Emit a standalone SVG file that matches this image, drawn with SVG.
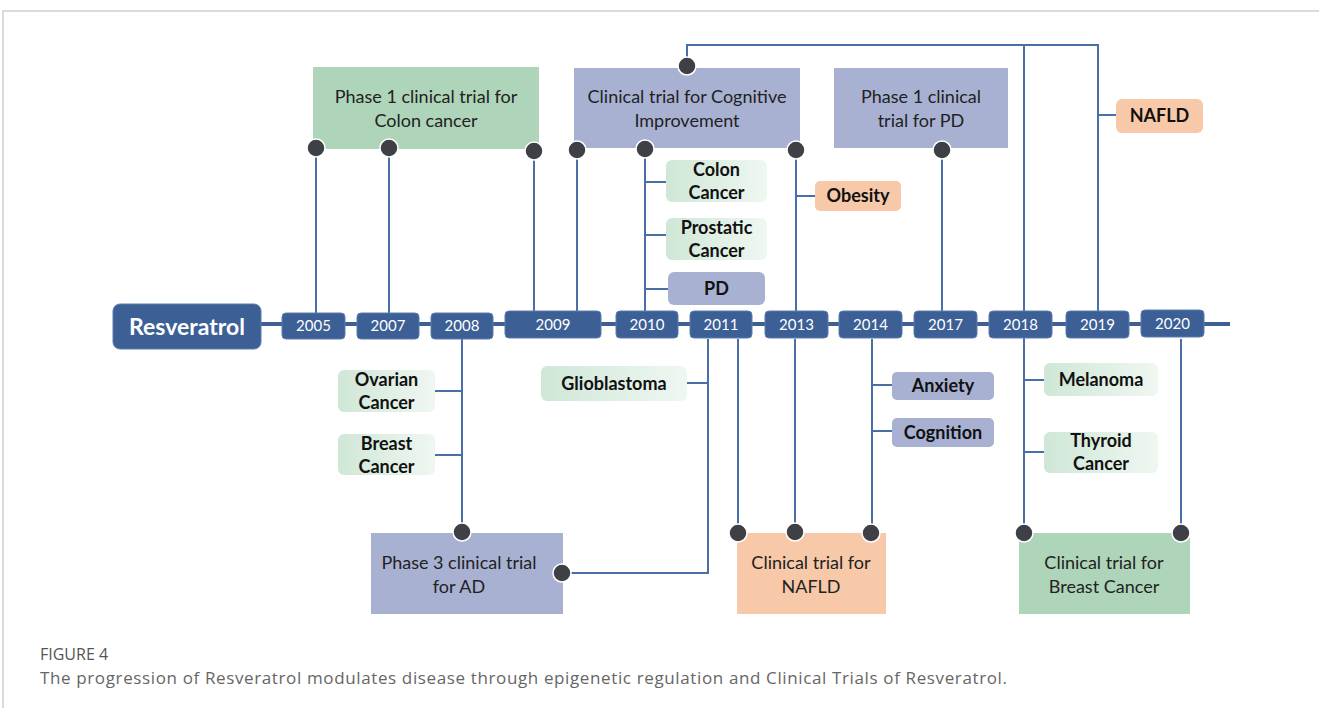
<svg xmlns="http://www.w3.org/2000/svg" width="1319" height="708" viewBox="0 0 1319 708">
<defs>
<linearGradient id="gg" x1="0" y1="0" x2="1" y2="0">
<stop offset="0" stop-color="#cfe7d7"/>
<stop offset="1" stop-color="#eff7f1"/>
</linearGradient>
<style>
.frame{stroke:#d0d0d0;stroke-width:1.5;fill:none}
.ln{stroke:#4a6ea6;stroke-width:2;fill:none}
.tl{stroke:#3d5f94;stroke-width:4;fill:none}
.yb{fill:#3c5f95;stroke:#5a7db0;stroke-width:1}
.yt{font-family:Lato,"Liberation Sans",sans-serif;font-size:15px;fill:#fff;text-anchor:middle}
.big{font-family:Lato,"Liberation Sans",sans-serif;font-size:18px;fill:#222;text-anchor:middle}
.lab{font-family:Lato,"Liberation Sans",sans-serif;font-size:18px;font-weight:bold;fill:#111;text-anchor:middle}
.green{fill:#aed4b9}
.lav{fill:#a9b1d2}
.org{fill:#f7c9a8}
.gs{fill:url(#gg)}
.dot{fill:#3f4045;stroke:#fff;stroke-width:1.5}
.cap1{font-family:"Open Sans","Liberation Sans",sans-serif;font-size:16px;fill:#555}
.cap2{font-family:"Open Sans","Liberation Sans",sans-serif;font-size:17px;fill:#666}
</style>
</defs>
<rect width="1319" height="708" fill="#fff"/>
<path class="frame" d="M3 708 V11 H1319"/>

<g id="connectors">
<line class="tl" x1="258" y1="324" x2="1230" y2="324"/>
<path class="ln" d="M316 150 V313"/>
<path class="ln" d="M389 148 V313"/>
<path class="ln" d="M534 150 V312"/>
<path class="ln" d="M577 150 V312"/>
<path class="ln" d="M645 148 V312"/>
<path class="ln" d="M796 150 V312"/>
<path class="ln" d="M942 150 V312"/>
<path class="ln" d="M687 66 V45 H1098 V312"/>
<path class="ln" d="M1024 45 V533"/>
<path class="ln" d="M1098 115 H1116"/>
<path class="ln" d="M645 182 H666"/>
<path class="ln" d="M645 235 H666"/>
<path class="ln" d="M645 289 H668"/>
<path class="ln" d="M796 196 H815"/>
<path class="ln" d="M462 339 V532"/>
<path class="ln" d="M463 391 H435"/>
<path class="ln" d="M463 455 H435"/>
<path class="ln" d="M708 339 V573 H562"/>
<path class="ln" d="M708 383 H687"/>
<path class="ln" d="M738 339 V533"/>
<path class="ln" d="M795 339 V532"/>
<path class="ln" d="M872 339 V533"/>
<path class="ln" d="M872 385 H892"/>
<path class="ln" d="M872 431 H892"/>
<path class="ln" d="M1024 380 H1044"/>
<path class="ln" d="M1024 452 H1044"/>
<path class="ln" d="M1181 339 V533"/>
</g>

<g id="resveratrol">
<rect x="113" y="304" width="148" height="45" rx="7" fill="#3c5f95" stroke="#5a7db0"/>
<text x="187" y="335" font-family="Lato,'Liberation Sans',sans-serif" font-size="23" font-weight="bold" fill="#fff" text-anchor="middle">Resveratrol</text>
</g>

<g id="y2005"><rect class="yb" x="282" y="313" width="63" height="26" rx="4"/><text class="yt" x="313.5" y="331">2005</text></g>
<g id="y2007"><rect class="yb" x="357" y="313" width="62" height="26" rx="4"/><text class="yt" x="388" y="331">2007</text></g>
<g id="y2008"><rect class="yb" x="431" y="313" width="62" height="26" rx="4"/><text class="yt" x="462" y="331">2008</text></g>
<g id="y2009"><rect class="yb" x="505" y="311" width="96" height="27" rx="4"/><text class="yt" x="553" y="330">2009</text></g>
<g id="y2010"><rect class="yb" x="616" y="311" width="62" height="27" rx="4"/><text class="yt" x="647" y="330">2010</text></g>
<g id="y2011"><rect class="yb" x="690" y="311" width="62" height="27" rx="4"/><text class="yt" x="721" y="330">2011</text></g>
<g id="y2013"><rect class="yb" x="765" y="311" width="63" height="27" rx="4"/><text class="yt" x="796.5" y="330">2013</text></g>
<g id="y2014"><rect class="yb" x="839" y="311" width="63" height="27" rx="4"/><text class="yt" x="870.5" y="330">2014</text></g>
<g id="y2017"><rect class="yb" x="914" y="311" width="63" height="27" rx="4"/><text class="yt" x="945.5" y="330">2017</text></g>
<g id="y2018"><rect class="yb" x="989" y="311" width="63" height="27" rx="4"/><text class="yt" x="1020.5" y="330">2018</text></g>
<g id="y2019"><rect class="yb" x="1066" y="311" width="63" height="27" rx="4"/><text class="yt" x="1097.5" y="330">2019</text></g>
<g id="y2020"><rect class="yb" x="1141" y="310" width="63" height="27" rx="4"/><text class="yt" x="1172.5" y="329">2020</text></g>

<g id="p1colon">
<rect class="green" x="313" y="67" width="226" height="82"/>
<text class="big" x="426" y="103">Phase 1 clinical trial for</text>
<text class="big" x="426" y="127">Colon cancer</text>
<circle class="dot" cx="316" cy="148" r="9"/>
<circle class="dot" cx="389" cy="148" r="9"/>
<circle class="dot" cx="534" cy="151" r="9"/>
</g>

<g id="cognitive">
<rect class="lav" x="574" y="68" width="226" height="80"/>
<text class="big" x="687" y="103">Clinical trial for Cognitive</text>
<text class="big" x="687" y="127">Improvement</text>
<circle class="dot" cx="687" cy="66" r="9"/>
<circle class="dot" cx="577" cy="150" r="9"/>
<circle class="dot" cx="645" cy="149" r="9"/>
<circle class="dot" cx="796" cy="150" r="9"/>
</g>

<g id="p1pd">
<rect class="lav" x="834" y="68" width="174" height="80"/>
<text class="big" x="921" y="103">Phase 1 clinical</text>
<text class="big" x="921" y="127">trial for PD</text>
<circle class="dot" cx="942" cy="150" r="9"/>
</g>

<g id="nafld-top">
<rect class="org" x="1116" y="99" width="87" height="34" rx="6"/>
<text class="lab" x="1159.5" y="122">NAFLD</text>
</g>

<g id="colon">
<rect class="gs" x="666" y="160" width="101" height="42" rx="6"/>
<text class="lab" x="716.5" y="176">Colon</text>
<text class="lab" x="716.5" y="199">Cancer</text>
</g>
<g id="prostatic">
<rect class="gs" x="666" y="218" width="101" height="42" rx="6"/>
<text class="lab" x="716.5" y="234">Prostatic</text>
<text class="lab" x="716.5" y="257">Cancer</text>
</g>
<g id="pd">
<rect class="lav" x="668" y="272" width="97" height="33" rx="6"/>
<text class="lab" x="716.5" y="295">PD</text>
</g>
<g id="obesity">
<rect class="org" x="815" y="181" width="86" height="30" rx="5"/>
<text class="lab" x="858" y="202">Obesity</text>
</g>

<g id="ovarian">
<rect class="gs" x="338" y="370" width="97" height="42" rx="6"/>
<text class="lab" x="386.5" y="386">Ovarian</text>
<text class="lab" x="386.5" y="409">Cancer</text>
</g>
<g id="breast">
<rect class="gs" x="338" y="434" width="97" height="41" rx="6"/>
<text class="lab" x="386.5" y="450">Breast</text>
<text class="lab" x="386.5" y="473">Cancer</text>
</g>
<g id="glioblastoma">
<rect class="gs" x="541" y="366" width="146" height="35" rx="6"/>
<text class="lab" x="614" y="390">Glioblastoma</text>
</g>
<g id="anxiety">
<rect class="lav" x="892" y="372" width="102" height="28" rx="5"/>
<text class="lab" x="943" y="392">Anxiety</text>
</g>
<g id="cognition">
<rect class="lav" x="892" y="418" width="102" height="29" rx="5"/>
<text class="lab" x="943" y="439">Cognition</text>
</g>
<g id="melanoma">
<rect class="gs" x="1044" y="363" width="114" height="33" rx="6"/>
<text class="lab" x="1101" y="386">Melanoma</text>
</g>
<g id="thyroid">
<rect class="gs" x="1044" y="432" width="114" height="41" rx="6"/>
<text class="lab" x="1101" y="447">Thyroid</text>
<text class="lab" x="1101" y="470">Cancer</text>
</g>

<g id="p3ad">
<rect class="lav" x="371" y="533" width="192" height="81"/>
<text class="big" x="459" y="569">Phase 3 clinical trial</text>
<text class="big" x="459" y="593">for AD</text>
<circle class="dot" cx="462" cy="532" r="9"/>
<circle class="dot" cx="562" cy="573" r="9"/>
</g>

<g id="ctnafld">
<rect class="org" x="737" y="533" width="149" height="81"/>
<text class="big" x="811" y="569">Clinical trial for</text>
<text class="big" x="811" y="593">NAFLD</text>
<circle class="dot" cx="738" cy="533" r="9"/>
<circle class="dot" cx="795" cy="532" r="9"/>
<circle class="dot" cx="871" cy="533" r="9"/>
</g>

<g id="ctbreast">
<rect class="green" x="1019" y="533" width="171" height="81"/>
<text class="big" x="1104" y="569">Clinical trial for</text>
<text class="big" x="1104" y="593">Breast Cancer</text>
<circle class="dot" cx="1024" cy="533" r="9"/>
<circle class="dot" cx="1181" cy="533" r="9"/>
</g>

<text class="cap1" x="40" y="660">FIGURE 4</text>
<text class="cap2" x="40" y="684" textLength="967" lengthAdjust="spacing">The progression of Resveratrol modulates disease through epigenetic regulation and Clinical Trials of Resveratrol.</text>
</svg>
